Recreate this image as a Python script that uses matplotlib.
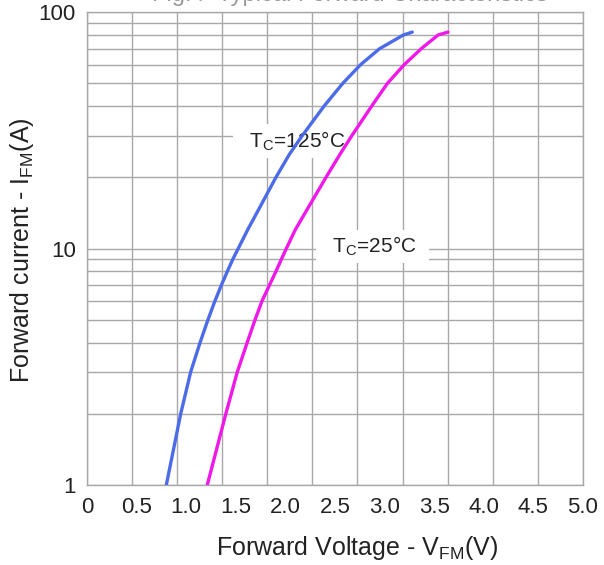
import numpy as np
import matplotlib
matplotlib.use("Agg")
import matplotlib.pyplot as plt

plt.rcParams['font.family'] = ['Liberation Sans', 'DejaVu Sans']
plt.rcParams['mathtext.fontset'] = 'custom'
plt.rcParams['mathtext.rm'] = 'Liberation Sans'
plt.rcParams['mathtext.it'] = 'Liberation Sans'

# 読み取った値（電流 A）
current = [1, 2, 3, 4, 5, 6, 7, 8, 9, 10, 12, 15, 20, 25, 30, 40, 50, 60, 70, 80, 82.3]
# Tc=125°C の順電圧
vf_125 = [0.80, 0.945, 1.045, 1.14, 1.22, 1.29, 1.355, 1.415, 1.47, 1.525, 1.62,
          1.745, 1.905, 2.04, 2.17, 2.39, 2.58, 2.76, 2.95, 3.19, 3.28]
# Tc=25°C の順電圧
vf_25 = [1.213, 1.40, 1.515, 1.615, 1.695, 1.765, 1.84, 1.905, 1.96, 2.01, 2.10,
         2.235, 2.41, 2.55, 2.67, 2.87, 3.03, 3.20, 3.37, 3.54, 3.64]

xticks = [0, 0.5, 1.0, 1.5, 2.0, 2.5, 3.0, 3.5, 4.0, 4.5, 5.0]
xtick_labels = ['0', '0.5', '1.0', '1.5', '2.0', '2.5', '3.0', '3.5', '4.0', '4.5', '5.0']
yticks = [1, 10, 100]
ytick_labels = ['1', '10', '100']

fig = plt.figure(figsize=(6.04, 5.65), dpi=100)
ax = fig.add_axes([0.144, 0.1416, 0.821, 0.837])

grid_c = '#a8a8a8'
# 縦グリッド（目盛とずれた11分割）
for gx in np.linspace(0, 5.0, 12):
    ax.axvline(gx, color=grid_c, lw=1.0, zorder=1)
# 横グリッド（対数）
for dec in [1, 10]:
    for m in range(1, 10):
        ax.axhline(dec * m, color=grid_c, lw=1.0, zorder=1)
ax.axhline(100, color=grid_c, lw=1.0, zorder=1)

ax.plot(vf_125, current, color='#4c6be8', lw=2.4, zorder=4,
        solid_capstyle='round', solid_joinstyle='round')
ax.plot(vf_25, current, color='#f018e8', lw=2.4, zorder=4,
        solid_capstyle='round', solid_joinstyle='round')

box = dict(facecolor='white', edgecolor='none', boxstyle='square,pad=0.25')
ax.text(2.10, 28.5, '  T$_\\mathregular{C}$=125°C  ', fontsize=15, ha='center', va='center',
        color='#222222', bbox=box, zorder=3)
ax.text(2.88, 10.2, '  T$_\\mathregular{C}$=25°C  ', fontsize=15, ha='center', va='center',
        color='#222222', bbox=box, zorder=3)

ax.set_yscale('log')
ax.set_xlim(0, 5.0)
ax.set_ylim(1, 100)
ax.set_xticks(xticks)
ax.set_xticklabels(xtick_labels)
ax.set_yticks(yticks)
ax.set_yticklabels(ytick_labels)
ax.yaxis.set_minor_locator(matplotlib.ticker.NullLocator())
ax.tick_params(axis='both', length=0, labelsize=16, colors='#222222')
ax.tick_params(axis='x', pad=9)
ax.tick_params(axis='y', pad=8)
for s in ax.spines.values():
    s.set_color(grid_c)
    s.set_linewidth(1.0)

fig.text(0.591, 0.030, 'Forward Voltage - V$_\\mathregular{FM}$(V)', fontsize=18,
         ha='center', va='center', color='#222222')
fig.text(0.036, 0.558, 'Forward current - I$_\\mathregular{FM}$(A)', fontsize=18,
         ha='center', va='center', rotation=90, color='#222222')
# 上端で切れているタイトル（元画像でも下端だけ見える）
fig.text(0.58, 1.0 - 0.5 / 565, 'Fig.4  Typical Forward Characteristics', fontsize=17,
         ha='center', va='baseline', color='#999999')

fig.savefig('out.png', dpi=100)
